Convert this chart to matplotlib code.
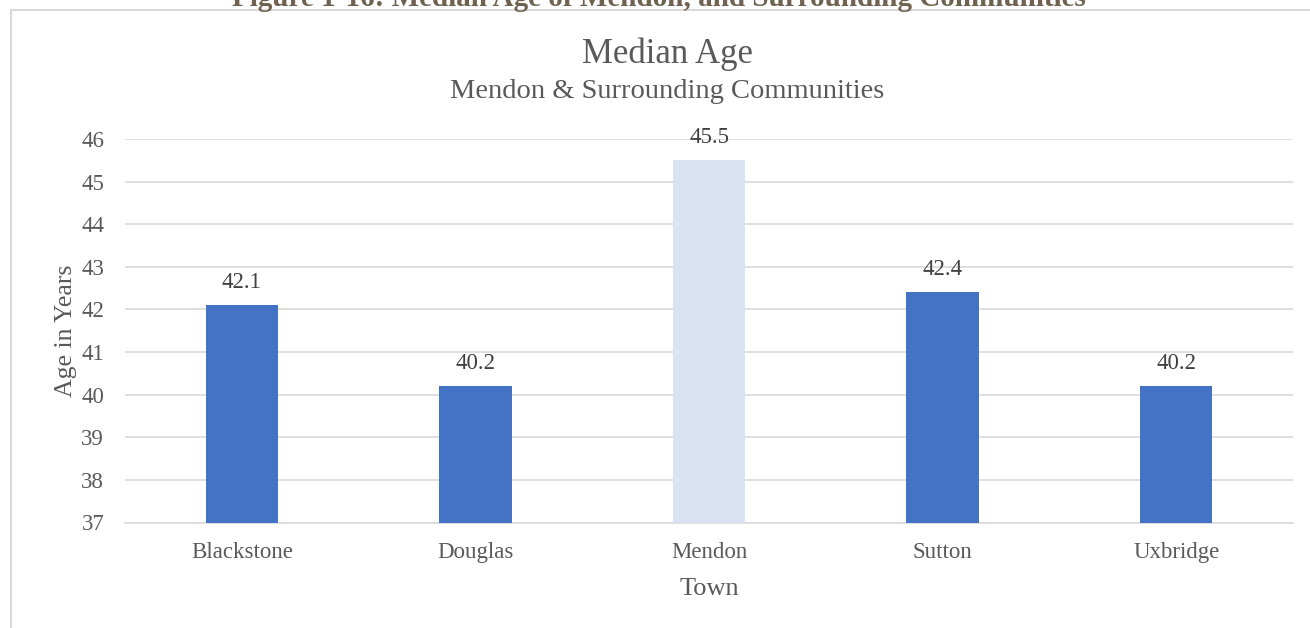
import matplotlib
matplotlib.use("Agg")
import matplotlib.pyplot as plt
from matplotlib.patches import Rectangle

# median age by town
towns = ["Blackstone", "Douglas", "Mendon", "Sutton", "Uxbridge"]
ages = [42.1, 40.2, 45.5, 42.4, 40.2]
bar_colors = ["#4472C4", "#4472C4", "#DAE3F3", "#4472C4", "#4472C4"]
y_ticks = [37, 38, 39, 40, 41, 42, 43, 44, 45, 46]

plt.rcParams["font.family"] = ["Liberation Serif", "DejaVu Serif"]
txt = "#595959"
grid = "#D9D9D9"

W, H = 1310, 628
fig = plt.figure(figsize=(W / 100, H / 100), dpi=100)

# chart frame (runs off the right and bottom edges)
fig.patches.append(Rectangle((11 / W, -0.1), 1.2, 1 - 10 / H + 0.1,
                             transform=fig.transFigure, facecolor="white",
                             edgecolor=grid, linewidth=1.5, zorder=-1))

# figure caption, cut off by the top edge
fig.text(659 / W, 1 - 6 / H,
         "Figure 1-16: Median Age of Mendon, and Surrounding Communities",
         ha="center", va="baseline", fontsize=21, fontweight="bold",
         color="#6F6250")

ax = fig.add_axes([125 / W, 1 - 522.5 / H, 1168 / W, (522.5 - 139) / H])
ax.set_facecolor("none")

x = range(len(towns))
bars = ax.bar(x, ages, width=0.31, color=bar_colors, zorder=3)
for xi, v in zip(x, ages):
    ax.annotate(f"{v}", (xi, v), xytext=(0, 9), textcoords="offset points",
                ha="center", va="bottom", fontsize=16.5, color="#404040")

ax.set_ylim(37, 46)
ax.set_xlim(-0.5, len(towns) - 0.5)
ax.set_yticks(y_ticks)
ax.set_xticks(list(x))
ax.set_xticklabels(towns)
ax.tick_params(axis="both", length=0, labelsize=16.5, labelcolor=txt)
ax.tick_params(axis="y", pad=15)
ax.tick_params(axis="x", pad=14)
ax.grid(axis="y", color=grid, linewidth=1.2, zorder=0)
for s in ["top", "right", "left"]:
    ax.spines[s].set_visible(False)
ax.spines["bottom"].set_color(grid)
ax.spines["bottom"].set_linewidth(1.2)

ax.set_xlabel("Town", fontsize=19, color=txt, labelpad=11)
ax.set_ylabel("Age in Years", fontsize=18.5, color=txt, labelpad=3)

fig.text(667 / W, 1 - 54 / H, "Median Age", ha="center", va="center",
         fontsize=25, color=txt)
fig.text(667 / W, 1 - 91 / H, "Mendon & Surrounding Communities",
         ha="center", va="center", fontsize=20.5, color=txt)

fig.savefig("out.png", dpi=100)
